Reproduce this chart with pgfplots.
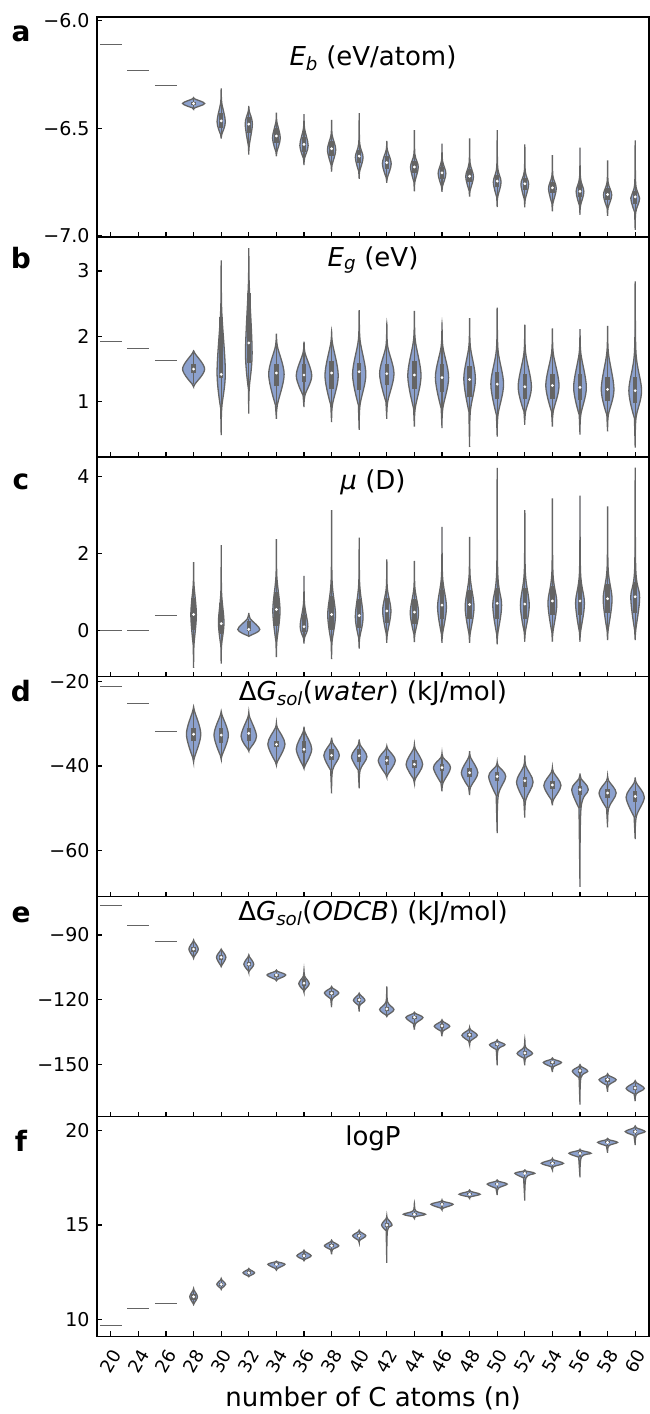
\documentclass[border=0pt]{standalone}
\usepackage{fontspec}
\setmainfont{DejaVu Sans}
\usepackage{pgfplots}
\usepackage{pgfplotstable}
\pgfplotsset{compat=1.18}

\definecolor{vblue}{RGB}{140,161,206}
\definecolor{vgray}{RGB}{100,100,100}

\newcommand\tickfont{\fontsize{19}{21}\selectfont}
\newcommand\xtickfont{\fontsize{18}{20}\selectfont}
\newcommand\titlefont{\fontsize{26}{30}\selectfont}
\newcommand\letterfont{\fontsize{28}{32}\selectfont\bfseries}

% one row per violin: x index, min, lower end of body, widest point, upper end of body, max,
% half width, quartiles and median
\pgfplotstableread{
x min lo mode hi max w q1 med q3
3 -6.412 -6.405 -6.385 -6.364 -6.358 0.40 -6.392 -6.385 -6.377
4 -6.548 -6.53 -6.47 -6.38 -6.315 0.15 -6.50 -6.466 -6.43
5 -6.623 -6.58 -6.48 -6.42 -6.396 0.13 -6.52 -6.481 -6.45
6 -6.63 -6.61 -6.545 -6.47 -6.427 0.14 -6.57 -6.536 -6.50
7 -6.671 -6.64 -6.58 -6.50 -6.435 0.15 -6.61 -6.575 -6.54
8 -6.702 -6.67 -6.60 -6.53 -6.461 0.15 -6.63 -6.595 -6.56
9 -6.735 -6.70 -6.635 -6.57 -6.43 0.14 -6.66 -6.63 -6.60
10 -6.754 -6.73 -6.665 -6.60 -6.559 0.16 -6.69 -6.66 -6.63
11 -6.793 -6.75 -6.68 -6.62 -6.509 0.14 -6.71 -6.68 -6.65
12 -6.796 -6.77 -6.71 -6.65 -6.572 0.14 -6.735 -6.707 -6.68
13 -6.818 -6.79 -6.725 -6.66 -6.547 0.14 -6.75 -6.723 -6.69
14 -6.866 -6.82 -6.75 -6.68 -6.509 0.14 -6.775 -6.746 -6.715
15 -6.868 -6.83 -6.76 -6.70 -6.575 0.14 -6.785 -6.758 -6.73
16 -6.886 -6.85 -6.78 -6.72 -6.625 0.14 -6.80 -6.777 -6.75
17 -6.902 -6.86 -6.795 -6.73 -6.59 0.14 -6.82 -6.793 -6.765
18 -6.907 -6.87 -6.81 -6.75 -6.65 0.15 -6.835 -6.808 -6.78
19 -6.972 -6.89 -6.825 -6.76 -6.556 0.16 -6.85 -6.819 -6.79
}\dataA

\pgfplotstableread{
x min lo mode hi max w q1 med q3
3 1.23 1.27 1.50 1.74 1.78 0.40 1.44 1.50 1.58
4 0.49 0.9 1.45 2.4 3.16 0.15 1.37 1.42 2.30
5 0.82 1.2 1.75 2.8 3.35 0.12 1.59 1.90 2.66
6 0.74 0.95 1.42 1.85 2.04 0.28 1.24 1.44 1.58
7 0.92 1.1 1.40 1.75 1.92 0.28 1.30 1.41 1.58
8 0.69 0.95 1.40 1.9 2.07 0.24 1.20 1.44 1.62
9 0.57 0.95 1.42 1.95 2.40 0.24 1.18 1.46 1.60
10 0.74 1.0 1.43 1.85 2.19 0.26 1.25 1.43 1.58
11 0.62 0.9 1.40 1.95 2.39 0.24 1.20 1.41 1.62
12 0.60 0.9 1.37 1.85 2.19 0.24 1.15 1.37 1.58
13 0.31 0.85 1.35 1.85 2.28 0.21 1.08 1.34 1.55
14 0.47 0.8 1.27 1.8 2.44 0.23 1.05 1.27 1.45
15 0.65 0.85 1.23 1.75 2.18 0.24 1.05 1.23 1.42
16 0.62 0.85 1.25 1.75 2.12 0.24 1.05 1.25 1.42
17 0.50 0.8 1.22 1.75 2.11 0.23 1.03 1.22 1.42
18 0.55 0.8 1.19 1.75 2.16 0.23 1.02 1.19 1.38
19 0.30 0.75 1.17 1.75 2.84 0.23 0.98 1.17 1.38
}\dataB

\pgfplotstableread{
x min lo mode hi max w q1 med q3
3 -0.98 -0.4 0.4 1.2 1.77 0.10 0.0 0.41 0.85
4 -0.87 -0.4 0.2 1.0 2.21 0.10 -0.1 0.17 0.7
5 -0.16 -0.14 0.02 0.3 0.45 0.40 -0.02 0.02 0.25
6 -0.70 -0.3 0.5 1.4 2.37 0.13 0.1 0.54 1.0
7 -0.35 -0.2 0.1 0.7 1.41 0.14 -0.05 0.09 0.4
8 -0.75 -0.3 0.4 1.3 3.12 0.14 0.0 0.41 0.9
9 -0.48 -0.2 0.35 1.2 2.41 0.14 0.05 0.38 0.8
10 -0.33 -0.1 0.5 1.1 1.84 0.15 0.2 0.50 0.85
11 -0.31 -0.1 0.45 1.1 1.80 0.15 0.15 0.47 0.8
12 -0.33 -0.1 0.6 1.4 2.69 0.16 0.3 0.65 1.05
13 -0.33 -0.1 0.6 1.4 2.43 0.16 0.3 0.67 1.05
14 -0.37 -0.1 0.65 1.5 4.22 0.16 0.3 0.70 1.1
15 -0.30 -0.05 0.65 1.5 3.12 0.16 0.3 0.68 1.1
16 -0.30 -0.05 0.7 1.5 3.43 0.16 0.4 0.76 1.15
17 -0.30 -0.05 0.7 1.5 3.50 0.16 0.4 0.76 1.15
18 -0.26 0.0 0.8 1.6 3.22 0.16 0.45 0.82 1.2
19 -0.26 0.0 0.85 1.6 4.23 0.16 0.45 0.87 1.25
}\dataC

\pgfplotstableread{
x min lo mode hi max w q1 med q3
3 -39.1 -38 -32.5 -27 -26.0 0.26 -34 -32.5 -31
4 -38.4 -37.5 -32.7 -28 -27.1 0.26 -34.5 -32.7 -31
5 -36.5 -36 -33 -28.5 -27.3 0.28 -34 -32.3 -31
6 -39.8 -39 -34.8 -31 -29.8 0.31 -35.6 -34.9 -34.2
7 -40.6 -40 -36 -32 -30.7 0.28 -37 -36.1 -34
8 -46.5 -41 -37.5 -34.5 -33.3 0.28 -38.5 -37.5 -36
9 -45.3 -41 -37.8 -35 -33.7 0.28 -39 -37.6 -36
10 -42.7 -42 -38.7 -36 -35.3 0.31 -39.8 -38.7 -37.6
11 -44.1 -43 -39.6 -36 -34.9 0.30 -40.5 -39.6 -38.5
12 -46.0 -44 -40.4 -38 -37.0 0.31 -41.2 -40.4 -39.5
13 -46.9 -45 -41.6 -38 -36.5 0.30 -42.5 -41.6 -40.6
14 -55.9 -47 -42.5 -40 -39.1 0.31 -43.5 -42.5 -41.5
15 -52.2 -48 -43.8 -40 -37.5 0.30 -45 -43.5 -42.5
16 -49.3 -48 -44.6 -41.5 -40.4 0.31 -45.5 -44.5 -43.6
17 -68.6 -50 -45.6 -43 -41.8 0.30 -46.8 -45.6 -44.7
18 -54.5 -50 -46.4 -43.5 -42.4 0.31 -47.5 -46.4 -45.5
19 -57.3 -52 -47.4 -44 -42.7 0.33 -48.5 -47.2 -46
}\dataD

\pgfplotstableread{
x min lo mode hi max w q1 med q3
3 -100.8 -100 -96.5 -93 -92.3 0.17 -97.7 -96.5 -95.5
4 -104.6 -104 -100.3 -97 -96.5 0.17 -101.5 -100.3 -99
5 -107.4 -106.5 -103.5 -100 -99.2 0.18 -104.5 -103.5 -102.3
6 -111.2 -110.5 -108.5 -106.8 -106.2 0.34 -109.2 -108.5 -107.8
7 -116.5 -115.5 -112.5 -109 -106.2 0.19 -113.5 -112.3 -110.5
8 -123.4 -119.5 -116.8 -114.5 -113.8 0.26 -117.8 -116.9 -116
9 -125.4 -122.5 -120.2 -117.5 -116.9 0.21 -121 -120 -119
10 -127.7 -127 -124.5 -121 -113.8 0.26 -125.2 -124.2 -123.2
11 -133.8 -131 -128.2 -126.3 -125.7 0.31 -129 -128 -127.3
12 -136.9 -134.5 -132.2 -130 -129.2 0.28 -133 -132 -131.2
13 -140.8 -139 -136.4 -133.8 -132.8 0.28 -137.2 -136.2 -135.2
14 -150.3 -143 -140.8 -139.2 -138.5 0.28 -141.5 -140.5 -139.8
15 -150.3 -147 -144.8 -142 -138.5 0.28 -145.6 -144.6 -143.6
16 -153.4 -151 -149 -147.5 -146.9 0.33 -149.7 -148.8 -148.2
17 -168.5 -156 -153 -150.8 -150 0.28 -154 -152.8 -152
18 -162.6 -159.5 -157 -155 -154.2 0.31 -157.8 -156.9 -156.2
19 -166.9 -163.5 -161 -158.3 -157.4 0.33 -161.8 -160.8 -160
}\dataE

\pgfplotstableread{
x min lo mode hi max w q1 med q3
3 10.79 10.85 11.2 11.55 11.64 0.14 11.05 11.2 11.35
4 11.59 11.65 11.86 12.1 12.17 0.16 11.78 11.86 11.95
5 12.26 12.3 12.47 12.65 12.70 0.21 12.4 12.47 12.55
6 12.61 12.7 12.92 13.05 13.09 0.31 12.87 12.92 12.97
7 13.11 13.18 13.37 13.6 13.67 0.26 13.3 13.37 13.45
8 13.45 13.7 13.9 14.12 14.20 0.26 13.83 13.9 13.98
9 14.06 14.2 14.43 14.65 14.73 0.24 14.36 14.43 14.5
10 13.0 14.7 15.0 15.35 15.48 0.19 14.9 15.0 15.12
11 15.35 15.45 15.57 15.75 16.15 0.40 15.52 15.57 15.63
12 15.80 15.9 16.1 16.25 16.33 0.40 16.05 16.1 16.15
13 16.41 16.5 16.63 16.78 16.86 0.38 16.58 16.63 16.68
14 16.59 16.95 17.17 17.32 17.39 0.36 17.12 17.17 17.22
15 16.29 17.5 17.74 17.86 17.92 0.36 17.68 17.74 17.8
16 17.92 18.1 18.27 18.45 18.53 0.40 18.22 18.27 18.32
17 17.53 18.6 18.8 18.95 19.01 0.40 18.74 18.8 18.86
18 18.83 19.2 19.38 19.52 19.59 0.36 19.33 19.38 19.44
19 19.24 19.75 19.95 20.15 20.25 0.36 19.9 19.95 20.02
}\dataF

\pgfplotsset{
  panel/.style={scale only axis, width=552pt, height=219.9pt, anchor=north west,
    xmin=-0.5, xmax=19.5, xtick={0,...,19}, xticklabels={},
    tick align=inside, xtick pos=left, ytick pos=left,
    major tick length=5pt, tick style={black, line width=1.2pt},
    axis line style={black, line width=1.5pt},
    /pgf/number format/assume math mode=true,
    yticklabel style={font=\tickfont, xshift=-4pt}},
  violin/.style={fill=vblue, draw=vgray, line width=1.3pt, smooth, tension=0.55, mark=none, forget plot},
  whisker/.style={draw=vgray, line width=1.3pt, mark=none, forget plot},
  iqr/.style={draw=vgray, line width=4.5pt, mark=none, forget plot},
  median/.style={only marks, mark=*, mark size=1.2pt, mark options={draw=white, fill=white}, forget plot},
  single/.style={draw=vgray, line width=1.2pt, mark=none, forget plot},
}

% draws every row of a table as a violin with its inner box
\newcommand\violins[1]{%
  \pgfplotstablegetrowsof{#1}%
  \pgfmathtruncatemacro\lastrow{\pgfplotsretval-1}%
  \pgfplotsforeachungrouped \ri in {0,...,\lastrow}{%
    \pgfplotstablegetelem{\ri}{x}\of{#1}\let\vx\pgfplotsretval
    \pgfplotstablegetelem{\ri}{min}\of{#1}\let\vmin\pgfplotsretval
    \pgfplotstablegetelem{\ri}{lo}\of{#1}\let\vlo\pgfplotsretval
    \pgfplotstablegetelem{\ri}{mode}\of{#1}\let\vmode\pgfplotsretval
    \pgfplotstablegetelem{\ri}{hi}\of{#1}\let\vhi\pgfplotsretval
    \pgfplotstablegetelem{\ri}{max}\of{#1}\let\vmax\pgfplotsretval
    \pgfplotstablegetelem{\ri}{w}\of{#1}\let\vw\pgfplotsretval
    \pgfplotstablegetelem{\ri}{q1}\of{#1}\let\vqa\pgfplotsretval
    \pgfplotstablegetelem{\ri}{med}\of{#1}\let\vmed\pgfplotsretval
    \pgfplotstablegetelem{\ri}{q3}\of{#1}\let\vqb\pgfplotsretval
    \pgfmathsetmacro\xW{\vx+\vw}\pgfmathsetmacro\xE{\vx-\vw}%
    \pgfmathsetmacro\xw{\vx+0.12*\vw}\pgfmathsetmacro\xe{\vx-0.12*\vw}%
    \edef\doviolin{%
      \noexpand\addplot[violin] coordinates {(\vx,\vmin) (\xw,\vlo) (\xW,\vmode) (\xw,\vhi) (\vx,\vmax) (\xe,\vhi) (\xE,\vmode) (\xe,\vlo)} -- cycle;
      \noexpand\addplot[whisker] coordinates {(\vx,\vlo) (\vx,\vhi)};
      \noexpand\addplot[iqr] coordinates {(\vx,\vqa) (\vx,\vqb)};
      \noexpand\addplot[median] coordinates {(\vx,\vmed)};
    }\doviolin
  }}

\begin{document}
\begin{tikzpicture}
\path[use as bounding box] (0,0) rectangle (650pt,-1414pt);

\begin{axis}[panel, at={(97pt,-17pt)}, ymin=-7.005, ymax=-5.983,
  ytick={-7,-6.5,-6}, yticklabels={−7.0,−6.5,−6.0}]
\addplot[single] coordinates {(-0.4,-6.11) (0.4,-6.11)};
\addplot[single] coordinates {(0.6,-6.23) (1.4,-6.23)};
\addplot[single] coordinates {(1.6,-6.30) (2.4,-6.30)};
\violins{\dataA}
\end{axis}

\begin{axis}[panel, at={(97pt,-236.9pt)}, ymin=0.16, ymax=3.52,
  ytick={1,2,3}, yticklabels={1,2,3}]
\addplot[single] coordinates {(-0.4,1.92) (0.4,1.92)};
\addplot[single] coordinates {(0.6,1.81) (1.4,1.81)};
\addplot[single] coordinates {(1.6,1.63) (2.4,1.63)};
\violins{\dataB}
\end{axis}

\begin{axis}[panel, at={(97pt,-456.8pt)}, ymin=-1.21, ymax=4.51,
  ytick={0,2,4}, yticklabels={0,2,4}]
\addplot[single] coordinates {(-0.4,0) (0.4,0)};
\addplot[single] coordinates {(0.6,0) (1.4,0)};
\addplot[single] coordinates {(1.6,0.39) (2.4,0.39)};
\violins{\dataC}
\end{axis}

\begin{axis}[panel, at={(97pt,-676.7pt)}, ymin=-70.9, ymax=-18.9,
  ytick={-60,-40,-20}, yticklabels={−60,−40,−20}]
\addplot[single] coordinates {(-0.4,-21.2) (0.4,-21.2)};
\addplot[single] coordinates {(0.6,-25.3) (1.4,-25.3)};
\addplot[single] coordinates {(1.6,-31.8) (2.4,-31.8)};
\violins{\dataD}
\end{axis}

\begin{axis}[panel, at={(97pt,-896.6pt)}, ymin=-174, ymax=-72.2,
  ytick={-150,-120,-90}, yticklabels={−150,−120,−90}]
\addplot[single] coordinates {(-0.4,-76.2) (0.4,-76.2)};
\addplot[single] coordinates {(0.6,-85.7) (1.4,-85.7)};
\addplot[single] coordinates {(1.6,-93.1) (2.4,-93.1)};
\violins{\dataE}
\end{axis}

\begin{axis}[panel, at={(97pt,-1116.5pt)}, ymin=9.1, ymax=20.75,
  ytick={10,15,20}, yticklabels={10,15,20},
  xticklabels={20,24,26,28,30,32,34,36,38,40,42,44,46,48,50,52,54,56,58,60},
  xticklabel style={font=\xtickfont, anchor=center, yshift=-25pt, rotate=60}]
\addplot[single] coordinates {(-0.4,9.66) (0.4,9.66)};
\addplot[single] coordinates {(0.6,10.58) (1.4,10.58)};
\addplot[single] coordinates {(1.6,10.83) (2.4,10.83)};
\violins{\dataF}
\end{axis}

% panel letters
\node[font=\letterfont, anchor=base] at (21pt,-41.7pt) {a};
\node[font=\letterfont, anchor=base] at (21pt,-268pt) {b};
\node[font=\letterfont, anchor=base] at (21pt,-489pt) {c};
\node[font=\letterfont, anchor=base] at (21pt,-701.7pt) {d};
\node[font=\letterfont, anchor=base] at (21pt,-922pt) {e};
\node[font=\letterfont, anchor=base] at (21pt,-1151.7pt) {f};

% panel titles
\node[font=\titlefont, anchor=base] at (373pt,-65pt) {\textit{E}\textsubscript{\textit{b}} (eV/atom)};
\node[font=\titlefont, anchor=base] at (373pt,-266pt) {\textit{E}\textsubscript{\textit{g}} (eV)};
\node[font=\titlefont, anchor=base] at (373pt,-489pt) {\textit{μ} (D)};
\node[font=\titlefont, anchor=base] at (373pt,-700.7pt) {Δ\textit{G}\textsubscript{\textit{sol}}(\textit{water}) (kJ/mol)};
\node[font=\titlefont, anchor=base] at (373pt,-920.7pt) {Δ\textit{G}\textsubscript{\textit{sol}}(\textit{ODCB}) (kJ/mol)};
\node[font=\titlefont, anchor=base] at (373pt,-1145pt) {logP};

\node[font=\titlefont, anchor=base] at (373pt,-1406pt) {number of C atoms (n)};
\end{tikzpicture}
\end{document}
